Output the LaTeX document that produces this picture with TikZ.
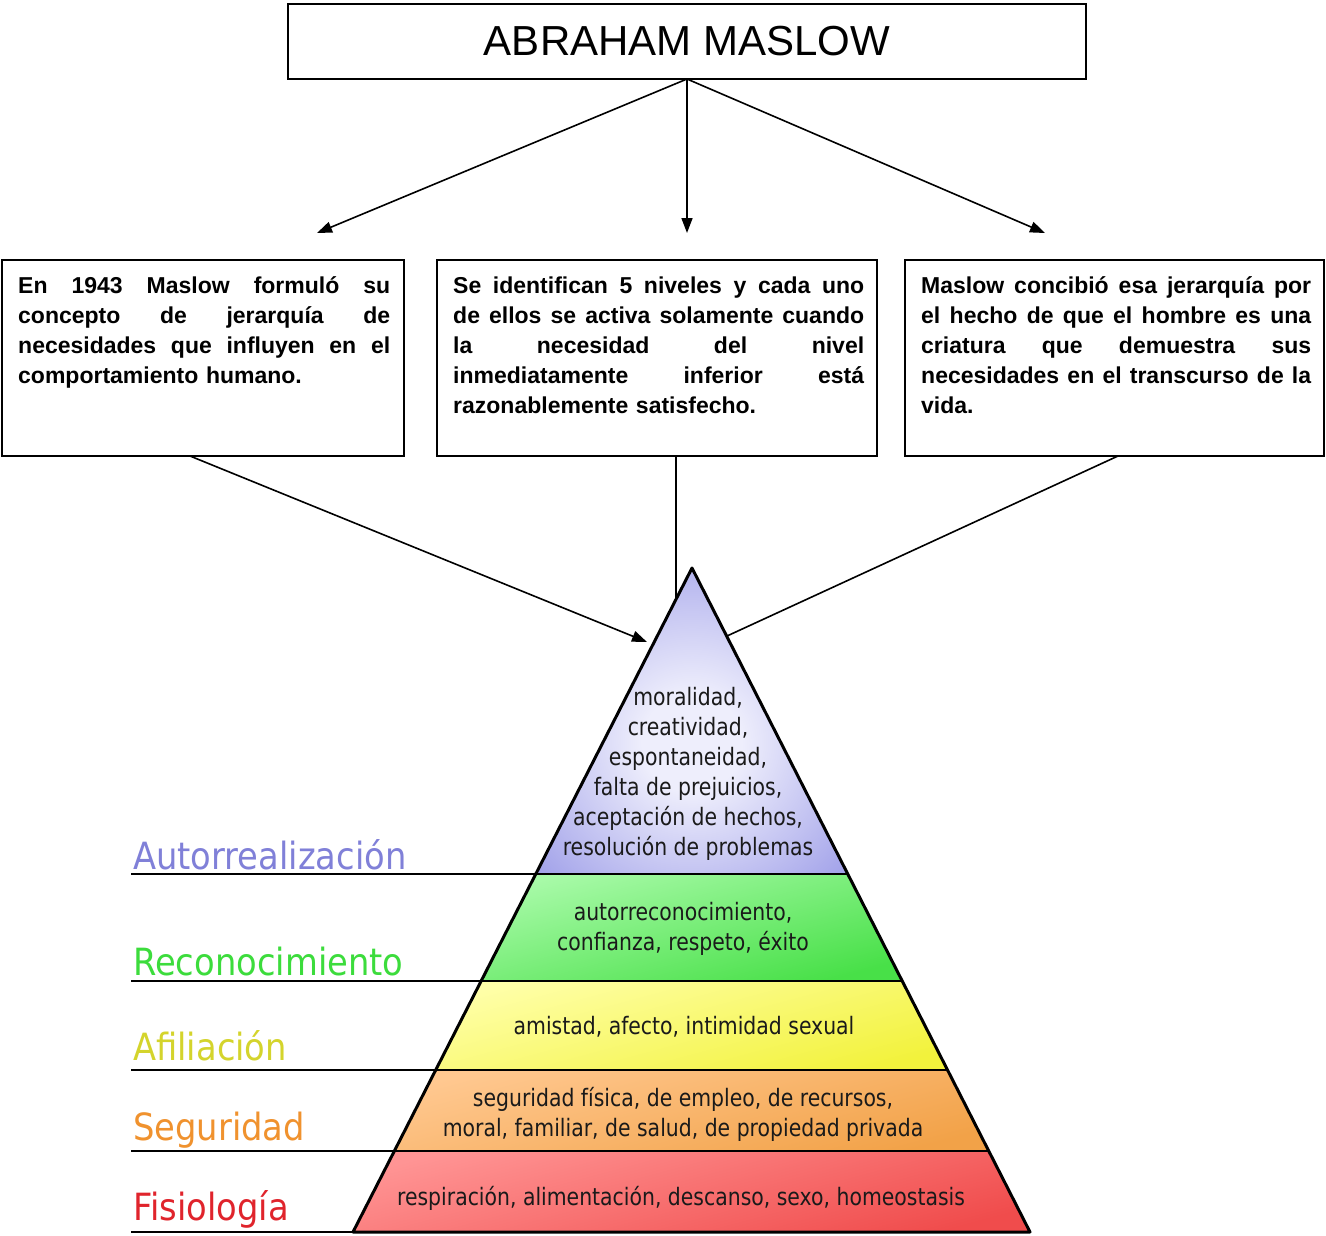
\documentclass[tikz,border=0pt]{standalone}
\usepackage{fontspec}
\usetikzlibrary{arrows.meta}
\newfontfamily\arialfont{Liberation Sans}
\newfontfamily\pyrfont[FakeStretch=0.85]{DejaVu Sans}
\newfontfamily\lblfont[FakeStretch=0.9]{DejaVu Sans}
\definecolor{lavL}{HTML}{EEEEFC}
\definecolor{lavD}{HTML}{7C7CE0}
\definecolor{grnL}{HTML}{A8FAA8}
\definecolor{grnD}{HTML}{48E048}
\definecolor{yelL}{HTML}{FFFFA8}
\definecolor{yelD}{HTML}{F2F23C}
\definecolor{orgL}{HTML}{FFC890}
\definecolor{orgD}{HTML}{F2A248}
\definecolor{redL}{HTML}{FF9494}
\definecolor{redD}{HTML}{F04C4C}
\definecolor{lblLav}{HTML}{8080D8}
\definecolor{lblGrn}{HTML}{3CDC3C}
\definecolor{lblYel}{HTML}{D4D42C}
\definecolor{lblOrg}{HTML}{F0922E}
\definecolor{lblRed}{HTML}{E0242C}
\definecolor{pyrtext}{HTML}{1A1A1A}
\pgfdeclareradialshading{shlav}{\pgfpoint{0bp}{-4bp}}{color(0bp)=(lavL); color(8bp)=(lavL); color(46bp)=(lavD); color(70bp)=(lavD)}
\tikzset{
  titlebox/.style={draw, line width=2.5pt, outer sep=0pt, minimum width=798pt, minimum height=75pt, inner sep=0pt,
    font=\arialfont\fontsize{42}{46}\selectfont},
  infobox/.style={draw, line width=2pt, outer sep=0pt, minimum height=196pt, inner sep=0pt, anchor=north west},
  infotext/.style={anchor=north west, inner sep=0pt, align=left,
    font=\arialfont\bfseries\fontsize{23}{30}\selectfont},
  conn/.style={line width=1.6pt},
  arr/.style={conn, -{Triangle[length=15pt,width=11pt]}},
  pyrline/.style={line width=3pt, line join=round},
  lvl/.style={line width=2.6pt},
  pyrtxt/.style={inner sep=0pt, align=center, text=pyrtext, font=\pyrfont\fontsize{24}{30}\selectfont},
  lbl/.style={anchor=base west, inner sep=0pt, font=\lblfont\fontsize{37.5}{40}\selectfont},
}
% justified line of a given width: interword spaces stretch to fill
\newcommand{\jline}[2]{\leavevmode\hbox to #1{\spaceskip=0.28em plus 1fil\relax #2}}
\begin{document}
\begin{tikzpicture}[x=1pt,y=-1pt]
\useasboundingbox (0,0) rectangle (1326,1235);
\fill[white] (0,0) rectangle (1326,1235);

% title
\node[titlebox] (title) at (687,41.5) {ABRAHAM MASLOW};

% info boxes
\node[infobox, minimum width=402pt] (b1) at (2,260) {};
\node[infobox, minimum width=440pt] (b2) at (437,260) {};
\node[infobox, minimum width=419pt] (b3) at (905,260) {};

\node[infotext, text width=372pt] (t1) at (18,273) {\rule{0pt}{20pt}\jline{372pt}{En 1943 Maslow formuló su}\\
\jline{372pt}{concepto de jerarquía de}\\
\jline{372pt}{necesidades que influyen en el}\\
comportamiento humano.};
\node[infotext, text width=411pt] (t2) at (453,273) {\rule{0pt}{20pt}\jline{411pt}{Se identifican 5 niveles y cada uno}\\
\jline{411pt}{de ellos se activa solamente cuando}\\
\jline{411pt}{la necesidad del nivel}\\
\jline{411pt}{inmediatamente inferior está}\\
razonablemente satisfecho.};
\node[infotext, text width=390pt] (t3) at (921,273) {\rule{0pt}{20pt}\jline{390pt}{Maslow concibió esa jerarquía por}\\
\jline{390pt}{el hecho de que el hombre es una}\\
\jline{390pt}{criatura que demuestra sus}\\
\jline{390pt}{necesidades en el transcurso de la}\\
vida.};

% arrow ends
\coordinate (a1) at (317,233);
\coordinate (a2) at (687,233);
\coordinate (a3) at (1045,233);
\draw[arr] (title.south) -- (a1);
\draw[arr] (title.south) -- (a2);
\draw[arr] (title.south) -- (a3);

% pyramid coordinates
\coordinate (apex) at (692,568);
\coordinate (l1) at (535.8,874);  \coordinate (r1) at (847.8,874);
\coordinate (l2) at (481.1,981);  \coordinate (r2) at (902.2,981);
\coordinate (l3) at (435.7,1070); \coordinate (r3) at (947.5,1070);
\coordinate (l4) at (394.4,1151); \coordinate (r4) at (988.8,1151);
\coordinate (l5) at (353,1232);   \coordinate (r5) at (1030,1232);

% bands
\path[shading=shlav] (apex) -- (r1) -- (l1) -- cycle;
\path[top color=grnL, bottom color=grnD, shading angle=15] (l1) -- (r1) -- (r2) -- (l2) -- cycle;
\path[top color=yelL, bottom color=yelD, shading angle=15] (l2) -- (r2) -- (r3) -- (l3) -- cycle;
\path[top color=orgL, bottom color=orgD, shading angle=15] (l3) -- (r3) -- (r4) -- (l4) -- cycle;
\path[top color=redL, bottom color=redD, shading angle=15] (l4) -- (r4) -- (r5) -- (l5) -- cycle;

% level lines
\coordinate (s1) at (131,874);
\coordinate (s2) at (131,981);
\coordinate (s3) at (131,1070);
\coordinate (s4) at (131,1151);
\coordinate (s5) at (131,1232);
\draw[lvl] (s1) -- (r1);
\draw[lvl] (s2) -- (r2);
\draw[lvl] (s3) -- (r3);
\draw[lvl] (s4) -- (r4);
\draw[lvl] (s5) -- (r5);
\draw[pyrline] (apex) -- (r5) -- (l5) -- cycle;

% connectors from boxes to pyramid
\coordinate (p1) at (647,642);
\coordinate (p2) at (676,599);
\coordinate (p3) at (727,636);
\draw[arr] ([xshift=-13pt]b1.south) -- (p1);
\draw[conn] ([xshift=19pt]b2.south) -- (p2);
\draw[conn] ([xshift=3.5pt]b3.south) -- (p3);

% pyramid texts
\node[pyrtxt] (x1) at (688,774) {moralidad,\\creatividad,\\espontaneidad,\\falta de prejuicios,\\aceptación de hechos,\\resolución de problemas};
\node[pyrtxt] (x2) at (683,929) {autorreconocimiento,\\confianza, respeto, éxito};
\node[pyrtxt] (x3) at (684,1027) {amistad, afecto, intimidad sexual};
\node[pyrtxt] (x4) at (683,1114) {seguridad física, de empleo, de recursos,\\moral, familiar, de salud, de propiedad privada};
\node[pyrtxt] (x5) at (681,1198) {respiración, alimentación, descanso, sexo, homeostasis};

% labels
\node[lbl, text=lblLav] (n1) at (133,869) {Autorrealización};
\node[lbl, text=lblGrn] (n2) at (133,975) {Reconocimiento};
\node[lbl, text=lblYel] (n3) at (133,1060) {Afiliación};
\node[lbl, text=lblOrg] (n4) at (133,1140) {Seguridad};
\node[lbl, text=lblRed] (n5) at (133,1220) {Fisiología};
\end{tikzpicture}
\end{document}
